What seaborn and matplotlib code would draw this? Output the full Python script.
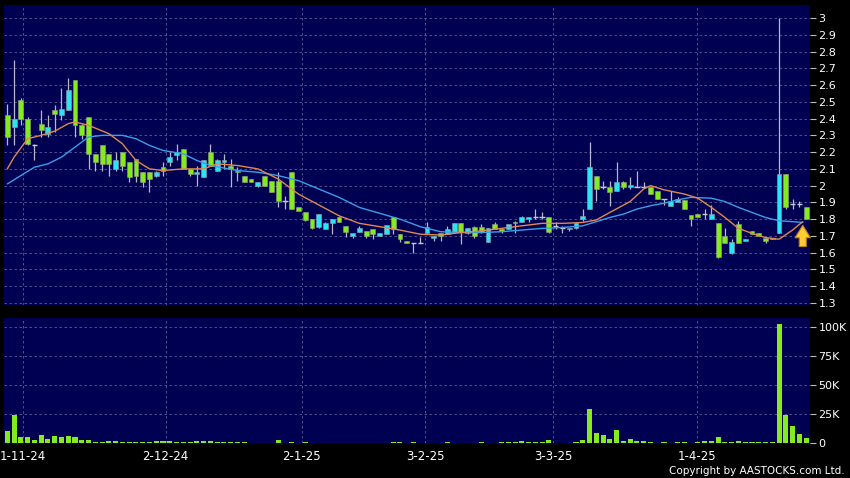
import matplotlib
matplotlib.use("Agg")
import matplotlib.pyplot as plt
import numpy as np
import pandas as pd
import seaborn as sns

# daily candles (index 0 = first candle on the left)
opens = [2.42, 2.35, 2.51, 2.40, 2.24, 2.37, 2.31, 2.45, 2.42, 2.45,
         2.63, 2.36, 2.41, 2.19, 2.24, 2.19, 2.10, 2.20, 2.14, 2.16,
         2.08, 2.08, 2.06, 2.11, 2.14, 2.18, 2.22, 2.10, 2.07, 2.05,
         2.20, 2.09, 2.14, 2.12, 2.09, 2.06, 2.04, 2.00, 2.06, 2.03,
         2.03, 1.91, 2.08, 1.87, 1.845, 1.80, 1.755, 1.74, 1.775, 1.81,
         1.76, 1.70, 1.725, 1.73, 1.74, 1.70, 1.71, 1.81, 1.71, 1.67,
         1.655, 1.655, 1.715, 1.685, 1.715, 1.71, 1.725, 1.775, 1.715, 1.755,
         1.755, 1.665, 1.77, 1.74, 1.74, 1.785, 1.785, 1.80, 1.81, 1.81,
         1.81, 1.76, 1.745, 1.74, 1.745, 1.80, 1.86, 2.06, 1.99, 1.99,
         1.965, 2.02, 1.99, 1.99, 1.99, 1.99, 1.965, 1.92, 1.88, 1.905,
         1.915, 1.825, 1.83, 1.83, 1.80, 1.775, 1.70, 1.595, 1.77, 1.67,
         1.73, 1.715, 1.685, 1.68, 1.72, 2.07, 1.89, 1.89, 1.87]
highs = [2.49, 2.75, 2.52, 2.41, 2.25, 2.45, 2.42, 2.48, 2.58, 2.64,
         2.63, 2.37, 2.41, 2.19, 2.24, 2.19, 2.20, 2.20, 2.14, 2.16,
         2.08, 2.08, 2.09, 2.14, 2.20, 2.25, 2.22, 2.10, 2.12, 2.15,
         2.25, 2.16, 2.19, 2.16, 2.11, 2.06, 2.04, 2.02, 2.06, 2.03,
         2.08, 1.94, 2.08, 1.87, 1.845, 1.80, 1.83, 1.78, 1.80, 1.81,
         1.76, 1.715, 1.76, 1.73, 1.74, 1.72, 1.765, 1.81, 1.71, 1.67,
         1.66, 1.695, 1.78, 1.70, 1.715, 1.76, 1.775, 1.775, 1.75, 1.76,
         1.77, 1.745, 1.785, 1.75, 1.77, 1.79, 1.82, 1.81, 1.86, 1.84,
         1.81, 1.78, 1.76, 1.75, 1.78, 1.86, 2.26, 2.06, 2.03, 2.03,
         2.14, 2.03, 2.05, 2.09, 2.02, 1.99, 1.965, 1.92, 1.97, 1.93,
         1.915, 1.825, 1.83, 1.86, 1.885, 1.775, 1.75, 1.68, 1.79, 1.68,
         1.73, 1.715, 1.685, 1.69, 3.00, 2.07, 1.92, 1.91, 1.87]
lows = [2.24, 2.24, 2.36, 2.24, 2.15, 2.29, 2.29, 2.32, 2.39, 2.45,
        2.29, 2.28, 2.10, 2.09, 2.09, 2.06, 2.09, 2.09, 2.02, 2.02,
        1.99, 1.96, 2.05, 2.06, 2.12, 2.15, 2.10, 2.06, 2.00, 2.05,
        2.12, 2.09, 2.10, 1.99, 2.03, 2.02, 2.02, 1.99, 2.00, 1.96,
        1.87, 1.86, 1.86, 1.85, 1.79, 1.74, 1.75, 1.74, 1.71, 1.78,
        1.695, 1.69, 1.725, 1.69, 1.68, 1.70, 1.71, 1.71, 1.665, 1.66,
        1.595, 1.655, 1.715, 1.67, 1.67, 1.71, 1.725, 1.65, 1.71, 1.69,
        1.72, 1.665, 1.74, 1.72, 1.74, 1.72, 1.785, 1.78, 1.80, 1.80,
        1.72, 1.74, 1.72, 1.73, 1.74, 1.79, 1.86, 1.91, 1.98, 1.88,
        1.965, 1.98, 1.98, 1.99, 1.99, 1.95, 1.92, 1.885, 1.88, 1.90,
        1.86, 1.76, 1.81, 1.80, 1.80, 1.57, 1.655, 1.59, 1.66, 1.67,
        1.71, 1.70, 1.66, 1.68, 1.72, 1.86, 1.86, 1.87, 1.80]
closes = [2.29, 2.40, 2.40, 2.25, 2.24, 2.33, 2.35, 2.43, 2.46, 2.57,
          2.36, 2.30, 2.19, 2.14, 2.13, 2.13, 2.15, 2.12, 2.05, 2.06,
          2.02, 2.04, 2.08, 2.09, 2.17, 2.20, 2.10, 2.07, 2.08, 2.15,
          2.12, 2.15, 2.15, 2.10, 2.08, 2.02, 2.02, 2.02, 2.00, 1.96,
          1.91, 1.91, 1.86, 1.85, 1.795, 1.745, 1.83, 1.775, 1.80, 1.785,
          1.725, 1.715, 1.745, 1.70, 1.71, 1.715, 1.765, 1.74, 1.68, 1.66,
          1.655, 1.655, 1.755, 1.70, 1.70, 1.74, 1.775, 1.725, 1.745, 1.70,
          1.725, 1.745, 1.74, 1.73, 1.77, 1.775, 1.81, 1.81, 1.81, 1.81,
          1.725, 1.76, 1.745, 1.75, 1.775, 1.82, 2.11, 1.98, 1.99, 1.96,
          2.02, 1.99, 2.005, 1.99, 1.99, 1.95, 1.92, 1.92, 1.91, 1.92,
          1.86, 1.80, 1.81, 1.83, 1.83, 1.575, 1.655, 1.665, 1.66, 1.68,
          1.71, 1.70, 1.67, 1.69, 2.07, 1.875, 1.89, 1.89, 1.80]
volumes = [10000, 24000, 5200, 5200, 3000, 7300, 3800, 5800, 5200, 6400,
           5200, 2600, 2600, 1200, 1200, 1500, 2000, 1200, 1000, 900,
           1200, 1000, 1300, 1500, 2000, 1200, 1000, 700, 1300, 1500,
           2000, 800, 500, 900, 700, 600, 400, 300, 200, 300,
           3000, 400, 1000, 300, 800, 200, 100, 200, 150, 100,
           200, 300, 100, 200, 100, 200, 300, 500, 600, 400,
           1000, 300, 200, 300, 100, 900, 200, 400, 300, 200,
           600, 300, 200, 500, 800, 1200, 1500, 600, 800, 1000,
           2300, 200, 300, 200, 800, 2300, 29700, 9000, 7300, 3800,
           11600, 2000, 3200, 2000, 1700, 600, 400, 700, 300, 500,
           900, 400, 800, 1500, 1500, 5200, 700, 900, 1700, 1200,
           900, 1000, 700, 1200, 103000, 24000, 14500, 8000, 4400]

# moving averages, sampled along the drawn lines
ma_short_idx = [0, 1, 3, 5, 7, 9, 10, 12, 15, 17, 19, 21, 23, 26, 29, 31, 34, 37,
                40, 43, 46, 49, 52, 55, 58, 61, 64, 67, 70, 73, 76, 79, 82, 85,
                87, 89, 92, 94, 95, 97, 100, 102, 104, 106, 108, 110, 112, 114,
                116, 117.5]
ma_short = [2.10, 2.17, 2.28, 2.30, 2.325, 2.37, 2.38, 2.36, 2.31, 2.25, 2.15,
            2.10, 2.09, 2.10, 2.10, 2.13, 2.12, 2.10, 2.04, 1.95, 1.885, 1.82,
            1.775, 1.755, 1.735, 1.71, 1.705, 1.72, 1.73, 1.745, 1.76, 1.775,
            1.775, 1.78, 1.795, 1.84, 1.905, 1.98, 2.00, 1.975, 1.95, 1.925,
            1.87, 1.81, 1.745, 1.715, 1.69, 1.68, 1.735, 1.785]
ma_long_idx = [0, 2, 4, 6, 8, 10, 12, 14, 17, 19, 21, 23, 26, 28, 30, 34, 37, 40,
               43, 46, 49, 52, 55, 58, 61, 64, 67, 70, 73, 76, 79, 82, 85, 87,
               89, 91, 93, 95, 97, 99, 101, 104, 106, 108, 110, 112, 114, 116,
               117.5]
ma_long = [2.01, 2.06, 2.11, 2.13, 2.17, 2.23, 2.29, 2.30, 2.30, 2.28, 2.24,
           2.21, 2.19, 2.15, 2.12, 2.09, 2.08, 2.06, 2.03, 1.98, 1.93, 1.87,
           1.835, 1.80, 1.755, 1.725, 1.72, 1.72, 1.725, 1.735, 1.745, 1.75,
           1.76, 1.785, 1.81, 1.83, 1.86, 1.88, 1.895, 1.915, 1.93, 1.925,
           1.905, 1.87, 1.84, 1.81, 1.79, 1.785, 1.78]

price_ticks = [1.3, 1.4, 1.5, 1.6, 1.7, 1.8, 1.9, 2.0, 2.1, 2.2, 2.3, 2.4, 2.5,
               2.6, 2.7, 2.8, 2.9, 3.0]
volume_ticks = [0, 25000, 50000, 75000, 100000]
volume_tick_labels = ["0", "25K", "50K", "75K", "100K"]
date_pos = [2.3, 23.4, 43.5, 61.7, 80.6, 101.9]
date_labels = ["1-11-24", "2-12-24", "2-1-25", "3-2-25", "3-3-25", "1-4-25"]

BG = "#000052"
GREEN = "#84EC1C"
CYAN = "#2BE4F2"
GRID = "#5D5D9A"
FONT = ["Liberation Sans Narrow", "DejaVu Sans"]


def style_axis(ax):
    ax.set_facecolor(BG)
    for s in ax.spines.values():
        s.set_visible(False)
    ax.grid(True, color=GRID, linestyle=(0, (3, 3)), linewidth=0.6)
    ax.set_axisbelow(True)
    ax.yaxis.tick_right()
    ax.tick_params(axis="y", colors="#BBBBBB", labelcolor="white", labelsize=8,
                   length=4, width=0.8, pad=2)
    ax.set_xticks(date_pos)
    ax.set_xlim(-0.49, 118.57)


def main():
    sns.set_style("dark")
    plt.rcParams["font.family"] = FONT

    df = pd.DataFrame({"o": opens, "h": highs, "l": lows, "c": closes, "v": volumes})
    df["i"] = np.arange(len(df))

    fig = plt.figure(figsize=(8.5, 4.78), dpi=100, facecolor="black")
    ax_p = fig.add_axes([4 / 850, 173 / 478, 806 / 850, 300 / 478])
    ax_v = fig.add_axes([4 / 850, 35 / 478, 806 / 850, 125 / 478])

    # price panel
    style_axis(ax_p)
    ax_p.vlines(df["i"], df["l"], df["h"], color="#B8B8C8", linewidth=0.9, zorder=2)
    up = df[df["c"] > df["o"]]
    down = df[df["c"] < df["o"]]
    flat = df[df["c"] == df["o"]]
    ax_p.bar(up["i"], np.maximum(up["c"] - up["o"], 0.006), bottom=up["o"], width=0.72,
             color=CYAN, edgecolor="#8AA0B0", linewidth=0.4, zorder=3)
    ax_p.bar(down["i"], np.maximum(down["o"] - down["c"], 0.006), bottom=down["c"], width=0.72,
             color=GREEN, edgecolor="#90A080", linewidth=0.4, zorder=3)
    ax_p.hlines(flat["c"], flat["i"] - 0.4, flat["i"] + 0.4, color="#C8C8D0", linewidth=1.0, zorder=3)

    sns.lineplot(x=ma_long_idx, y=ma_long, ax=ax_p, color="#3A9EE8", linewidth=1.0, zorder=4)
    sns.lineplot(x=ma_short_idx, y=ma_short, ax=ax_p, color="#E08850", linewidth=1.0, zorder=5)

    ax_p.annotate("", xy=(117.5, 1.78), xytext=(117.5, 1.62),
                  arrowprops=dict(arrowstyle="simple,head_width=1.1,head_length=0.9,tail_width=0.5",
                                  fc="#FFCC33", ec="#C08010", lw=0.8), zorder=6)

    ax_p.set_ylim(1.2876, 3.078)
    ax_p.set_yticks(price_ticks)
    ax_p.set_yticklabels([f"{round(t, 1):g}" for t in price_ticks])
    ax_p.tick_params(axis="x", length=0, labelbottom=False)
    ax_p.set_xlabel("")
    ax_p.set_ylabel("")

    # volume panel
    sns.barplot(data=df, x="i", y="v", ax=ax_v, color=GREEN, width=0.75,
                errorbar=None, saturation=1, linewidth=0, zorder=3)
    style_axis(ax_v)
    ax_v.set_ylim(0, 107800)
    ax_v.set_yticks(volume_ticks)
    ax_v.set_yticklabels(volume_tick_labels)
    ax_v.set_xticklabels(date_labels)
    ax_v.tick_params(axis="x", length=0, labelcolor="white", labelsize=8.5, pad=5)
    ax_v.set_xlabel("")
    ax_v.set_ylabel("")

    fig.text(845 / 850, 7 / 478, "Copyright by AASTOCKS.com Ltd.", color="white",
             fontsize=7.5, ha="right", va="center")

    fig.savefig("out.png", dpi=100, facecolor="black")


if __name__ == "__main__":
    main()
